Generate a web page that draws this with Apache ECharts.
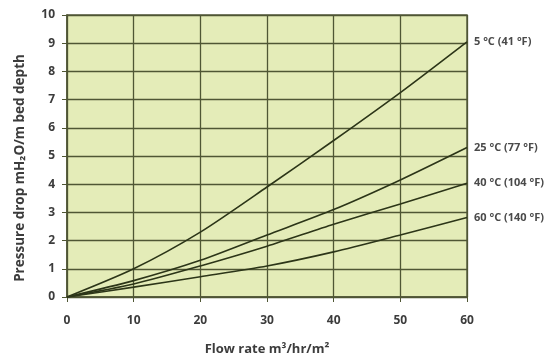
<!DOCTYPE html>
<html>
<head>
<meta charset="utf-8">
<script src="https://cdn.jsdelivr.net/npm/echarts@6/dist/echarts.min.js"></script>
<style>
  html, body { margin: 0; padding: 0; background: #fff; }
  #chart { width: 559px; height: 361px; }
</style>
</head>
<body>
<div id="chart"></div>
<script>
// flow rate (m3/hr/m2)
var flowRates = [0, 10, 20, 30, 40, 50, 60];
// pressure drop per temperature (mH2O/m bed depth)
var drop5C = [0, 1.0, 2.3, 3.9, 5.55, 7.25, 9.05];
var drop25C = [0, 0.58, 1.3, 2.2, 3.1, 4.15, 5.3];
var drop40C = [0, 0.46, 1.1, 1.8, 2.58, 3.3, 4.03];
var drop60C = [0, 0.35, 0.72, 1.1, 1.6, 2.2, 2.82];
var seriesNames = ["5 °C (41 °F)", "25 °C (77 °F)", "40 °C (104 °F)", "60 °C (140 °F)"];

function pairs(values) {
  return flowRates.map(function (x, i) { return [x, values[i]]; });
}

var lineColor = "#2c3518";
var gridColor = "#4f5634";
var textColor = "#3c3c3c";
var font = "Open Sans";

var chart = echarts.init(document.getElementById("chart"));

var series = [drop5C, drop25C, drop40C, drop60C].map(function (vals, i) {
  return {
    name: seriesNames[i],
    type: "line",
    data: pairs(vals),
    smooth: 0.25,
    symbol: "none",
    lineStyle: { color: lineColor, width: 1.6 },
    endLabel: {
      show: true,
      formatter: "{a}",
      color: "#4a4a4a",
      fontSize: 11,
      fontWeight: "bold",
      fontFamily: font,
      distance: 7
    }
  };
});

chart.setOption({
  animation: false,
  grid: {
    left: 67,
    right: 92,
    top: 15,
    bottom: 63,
    show: true,
    backgroundColor: "#e4ecb8",
    borderColor: "#5a5f44",
    borderWidth: 1.5
  },
  xAxis: {
    type: "value",
    min: 0,
    max: 60,
    interval: 10,
    name: "Flow rate m³/hr/m²",
    nameLocation: "middle",
    nameGap: 46,
    nameTextStyle: { color: textColor, fontSize: 13, fontWeight: "bold", fontFamily: font },
    axisLine: { lineStyle: { color: gridColor, width: 1.5 } },
    axisTick: { show: true, length: 5, lineStyle: { color: gridColor } },
    axisLabel: { color: textColor, fontSize: 12, fontWeight: "bold", fontFamily: font, margin: 18 },
    splitLine: { show: true, lineStyle: { color: gridColor, width: 1.3 } }
  },
  yAxis: {
    type: "value",
    min: 0,
    max: 10,
    interval: 1,
    name: "Pressure drop mH₂O/m bed depth",
    nameLocation: "middle",
    nameGap: 40,
    nameTextStyle: { color: textColor, fontSize: 13.5, fontWeight: "bold", fontFamily: font, padding: [0, 24, 0, 0] },
    axisLine: { show: true, lineStyle: { color: gridColor, width: 1.5 } },
    axisTick: { show: true, length: 5, lineStyle: { color: gridColor } },
    axisLabel: { color: textColor, fontSize: 12, fontWeight: "bold", fontFamily: font, margin: 12 },
    splitLine: { show: true, lineStyle: { color: gridColor, width: 1.3 } }
  },
  series: series
});
</script>
</body>
</html>
